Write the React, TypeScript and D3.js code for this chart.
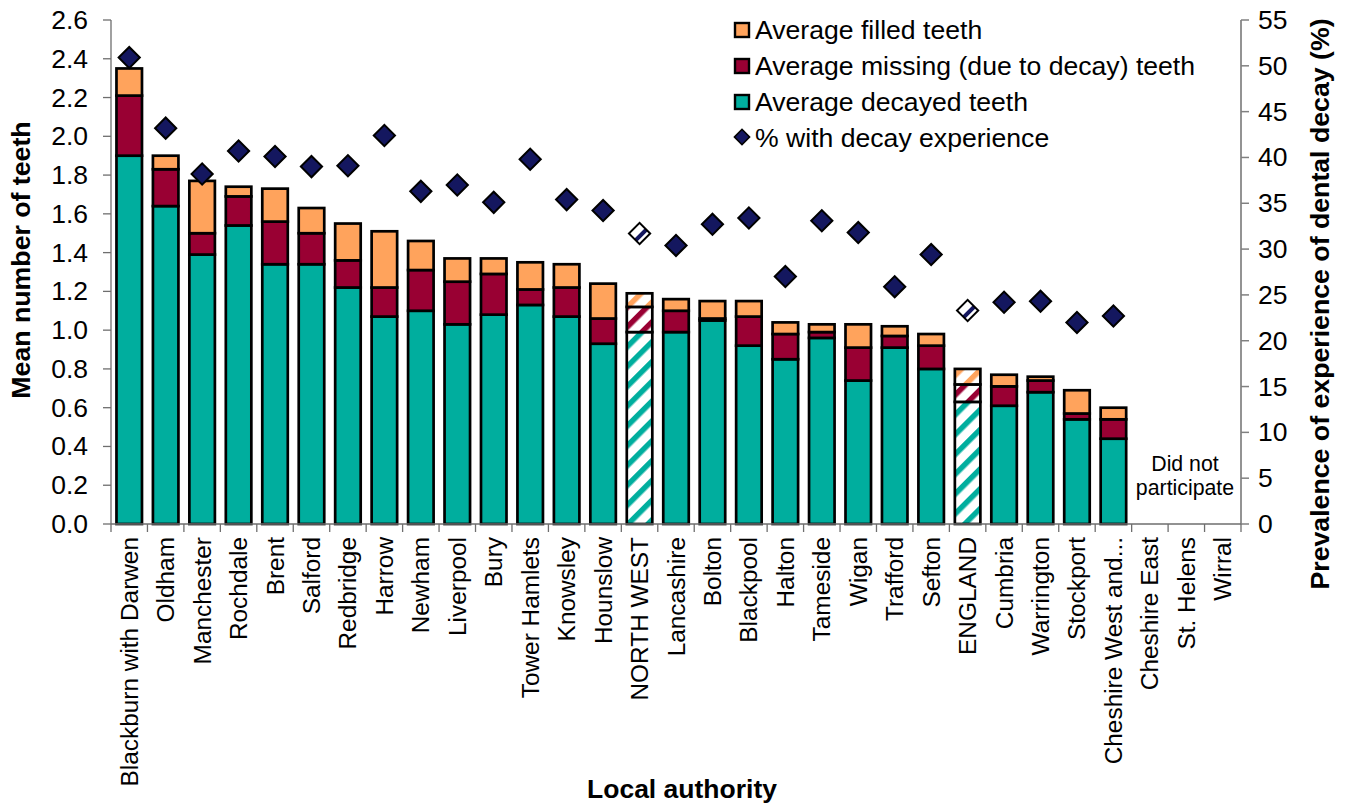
import React from 'react';
import * as d3 from 'd3';

const authorities = [
  'Blackburn with Darwen', 'Oldham', 'Manchester', 'Rochdale', 'Brent', 'Salford', 'Redbridge', 'Harrow',
  'Newham', 'Liverpool', 'Bury', 'Tower Hamlets', 'Knowsley', 'Hounslow', 'NORTH WEST', 'Lancashire',
  'Bolton', 'Blackpool', 'Halton', 'Tameside', 'Wigan', 'Trafford', 'Sefton', 'ENGLAND', 'Cumbria',
  'Warrington', 'Stockport', 'Cheshire West and...', 'Cheshire East', 'St. Helens', 'Wirral',
];
const decayed = [1.9, 1.64, 1.39, 1.54, 1.34, 1.34, 1.22, 1.07, 1.1, 1.03, 1.08, 1.13, 1.07, 0.93, 0.99, 0.99, 1.05, 0.92, 0.85, 0.96, 0.74, 0.91, 0.8, 0.63, 0.61, 0.68, 0.54, 0.44];
const missing = [0.31, 0.19, 0.11, 0.15, 0.22, 0.16, 0.14, 0.15, 0.21, 0.22, 0.21, 0.08, 0.15, 0.13, 0.13, 0.11, 0.01, 0.15, 0.13, 0.03, 0.17, 0.06, 0.12, 0.09, 0.1, 0.06, 0.03, 0.1];
const filled = [0.14, 0.07, 0.27, 0.05, 0.17, 0.13, 0.19, 0.29, 0.15, 0.12, 0.08, 0.14, 0.12, 0.18, 0.07, 0.06, 0.09, 0.08, 0.06, 0.04, 0.12, 0.05, 0.06, 0.08, 0.06, 0.02, 0.12, 0.06];
const prevalence = [50.9, 43.2, 38.2, 40.7, 40.1, 39.0, 39.1, 42.4, 36.3, 37.0, 35.1, 39.8, 35.4, 34.2, 31.7, 30.4, 32.7, 33.4, 27.0, 33.1, 31.8, 25.9, 29.4, 23.3, 24.2, 24.3, 22.0, 22.7];
const hatched = ['NORTH WEST', 'ENGLAND'];
const leftTicks = d3.range(0, 27).filter(d => d % 2 === 0).map(d => d / 10);
const rightTicks = d3.range(0, 60, 5);

const seriesKeys = ['decayed', 'missing', 'filled'];
const seriesColors: Record<string, string> = { decayed: '#00ae9e', missing: '#990033', filled: '#ffa35c' };
const legendRows = [
  { label: 'Average filled teeth', key: 'filled' },
  { label: 'Average missing (due to decay) teeth', key: 'missing' },
  { label: 'Average decayed teeth', key: 'decayed' },
  { label: '% with decay experience', key: 'prevalence' },
];
const diamondColor = '#14175f';
const axisColor = '#6e6e6e';
const rightAxisColor = '#808080';
const font = '"Liberation Sans", Arial, sans-serif';

const x = d3.scaleBand<string>().domain(authorities).range([111, 1241]).paddingInner(0.3).paddingOuter(0.15);
const yLeft = d3.scaleLinear().domain([0, 2.6]).range([524, 20]);
const yRight = d3.scaleLinear().domain([0, 55]).range([524, 20]);

const rows = decayed.map((d, i) => ({ name: authorities[i], decayed: d, missing: missing[i], filled: filled[i] }));
const stacked = d3.stack<any>().keys(seriesKeys)(rows);
const diamond = d3.symbol().type(d3.symbolSquare).size(225)();

const Hatch = ({ id, color, w, angle }: { id: string; color: string; w: number; angle: number }) => (
  <pattern id={id} width={14} height={14} patternUnits="userSpaceOnUse" patternTransform={`rotate(${angle})`}>
    <rect width={14} height={14} fill="#fff" />
    <rect width={w} height={14} fill={color} />
  </pattern>
);

export default function App() {
  const center = (name: string) => x(name)! + x.bandwidth() / 2;
  return (
    <svg width={1349} height={804} style={{ position: 'absolute', left: 0, top: 0 }} fontFamily={font} fill="#000">
      <defs>
        {seriesKeys.map(k => <Hatch key={k} id={`hatch-${k}`} color={seriesColors[k]} w={5.5} angle={45} />)}
        {/* markers are already turned 45deg, so their stripes stay upright here */}
        <Hatch id="hatch-diamond" color={diamondColor} w={4} angle={0} />
      </defs>

      {/* stacked bars */}
      {stacked.map(layer => layer.map(d => {
        const name = d.data.name;
        const isHatched = hatched.includes(name);
        return (
          <rect
            key={layer.key + name}
            x={x(name)}
            y={yLeft(d[1])}
            width={x.bandwidth()}
            height={yLeft(d[0]) - yLeft(d[1])}
            fill={isHatched ? `url(#hatch-${layer.key})` : seriesColors[layer.key]}
            stroke="#000"
            strokeWidth={2.7}
          />
        );
      }))}

      {/* prevalence markers */}
      {prevalence.map((p, i) => {
        const name = authorities[i];
        return (
          <path
            key={name}
            d={diamond!}
            transform={`translate(${center(name)},${yRight(p)}) rotate(45)`}
            fill={hatched.includes(name) ? 'url(#hatch-diamond)' : diamondColor}
            stroke="#000"
            strokeWidth={2}
          />
        );
      })}

      {/* left axis */}
      <line x1={111} x2={111} y1={20} y2={524} stroke={axisColor} strokeWidth={1.3} />
      {leftTicks.map(t => (
        <g key={t} transform={`translate(0,${yLeft(t)})`}>
          <line x1={103} x2={111} stroke={axisColor} strokeWidth={1.3} />
          <text x={88} y={9} fontSize={26.5} textAnchor="end">{t.toFixed(1)}</text>
        </g>
      ))}

      {/* right axis */}
      <line x1={1241} x2={1241} y1={20} y2={524} stroke={rightAxisColor} strokeWidth={1.7} />
      {rightTicks.map(t => (
        <g key={t} transform={`translate(0,${yRight(t)})`}>
          <line x1={1241} x2={1249} stroke={rightAxisColor} strokeWidth={1.5} />
          <text x={1258} y={9} fontSize={26.5}>{t}</text>
        </g>
      ))}

      {/* baseline and category labels */}
      <line x1={111} x2={1241} y1={524} y2={524} stroke={axisColor} strokeWidth={1.3} />
      {authorities.map((name, i) => {
        const tx = x.step() * i + 111;
        return (
          <g key={name}>
            <line x1={tx} x2={tx} y1={524} y2={532} stroke={axisColor} strokeWidth={1.3} />
            <text
              transform={`translate(${center(name) + 8.5},537) rotate(-90)`}
              fontSize={24.4}
              textAnchor="end"
            >
              {name}
            </text>
          </g>
        );
      })}
      <line x1={1241} x2={1241} y1={524} y2={532} stroke={axisColor} strokeWidth={1.3} />

      <text x={1185} y={471} fontSize={21.3} textAnchor="middle">Did not</text>
      <text x={1185} y={495} fontSize={21.3} textAnchor="middle">participate</text>

      {/* axis titles */}
      <text transform="translate(30,260) rotate(-90)" fontSize={26.7} fontWeight="bold" textAnchor="middle">Mean number of teeth</text>
      <text transform="translate(1329,304) rotate(-90)" fontSize={26.7} fontWeight="bold" textAnchor="middle">Prevalence of experience of dental decay (%)</text>
      <text x={682} y={798} fontSize={26.5} fontWeight="bold" textAnchor="middle">Local authority</text>

      {/* legend */}
      {legendRows.map((row, i) => {
        const ly = 30 + i * 36;
        return (
          <g key={row.key}>
            {row.key === 'prevalence'
              ? <path d={d3.symbol().type(d3.symbolSquare).size(115)()!} transform={`translate(742,${ly - 1}) rotate(45)`} fill={diamondColor} stroke="#000" strokeWidth={1.6} />
              : <rect x={735} y={ly - 7} width={14} height={14} fill={seriesColors[row.key]} stroke="#000" strokeWidth={2.4} />}
            <text x={755} y={ly + 9} fontSize={26.6}>{row.label}</text>
          </g>
        );
      })}
    </svg>
  );
}
